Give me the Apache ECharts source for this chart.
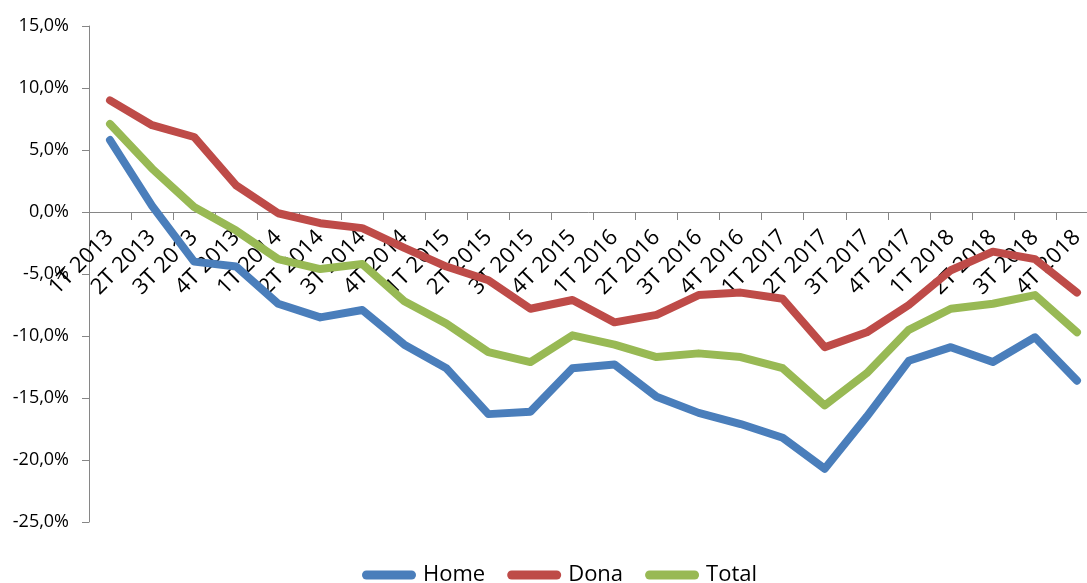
<!DOCTYPE html>
<html>
<head>
<meta charset="utf-8">
<script src="https://cdn.jsdelivr.net/npm/echarts@6/dist/echarts.min.js"></script>
<style>
  html, body { margin: 0; padding: 0; background: #fff; }
  #chart { width: 1087px; height: 583px; }
</style>
</head>
<body>
<div id="chart"></div>
<script>
// quarters
var quarters = ['1T 2013', '2T 2013', '3T 2013', '4T 2013',
  '1T 2014', '2T 2014', '3T 2014', '4T 2014',
  '1T 2015', '2T 2015', '3T 2015', '4T 2015',
  '1T 2016', '2T 2016', '3T 2016', '4T 2016',
  '1T 2017', '2T 2017', '3T 2017', '4T 2017',
  '1T 2018', '2T 2018', '3T 2018', '4T 2018']

// variacio interanual, en %
var home = [5.8, 0.5, -4.0, -4.4, -7.4, -8.5, -7.9, -10.7, -12.6, -16.3, -16.1, -12.6,
  -12.3, -14.9, -16.2, -17.1, -18.2, -20.7, -16.5, -12.0, -10.9, -12.1, -10.1, -13.6]
var dona = [9.0, 7.0, 6.05, 2.15, -0.1, -0.9, -1.3, -2.9, -4.4, -5.5, -7.8, -7.1,
  -8.9, -8.3, -6.7, -6.5, -7.0, -10.9, -9.7, -7.5, -4.7, -3.2, -3.8, -6.5]
var total = [7.1, 3.5, 0.4, -1.5, -3.8, -4.6, -4.2, -7.2, -9.0, -11.3, -12.1, -9.95,
  -10.7, -11.7, -11.4, -11.7, -12.6, -15.6, -13.0, -9.5, -7.8, -7.4, -6.7, -9.7]

var yMin = -25
var yMax = 15

var colors = ['#4a7ebb', '#be4b48', '#98b954']
var font = '"Open Sans", sans-serif'
var axisGrey = '#868686'

// plot area in px; the right edge runs past the canvas like the original crop
var plotTop = 26
var plotBottom = 61
var plotH = 583 - plotTop - plotBottom
// second grid ends on the 0% line so its x axis labels hang from there
var zeroBottom = plotBottom + plotH * (0 - yMin) / (yMax - yMin)

function lineSeries (name, data) {
  return {
    name: name,
    type: 'line',
    data: data,
    symbol: 'none',
    xAxisIndex: 0,
    yAxisIndex: 0,
    lineStyle: { width: 8, cap: 'round', join: 'round' }
  }
}

var chart = echarts.init(document.getElementById('chart'))
chart.setOption({
  animation: false,
  color: colors,
  grid: [
    { left: 89, top: plotTop, bottom: plotBottom, right: -11, containLabel: false, outerBoundsMode: 'none' },
    { left: 89, top: plotTop, bottom: zeroBottom, right: -11, containLabel: false, outerBoundsMode: 'none' }
  ],
  legend: {
    left: 362,
    top: 564,
    padding: 0,
    itemWidth: 58,
    itemHeight: 9,
    itemGap: 22,
    icon: 'path://M5,0H55A5,5,0,0,1,55,10H5A5,5,0,0,1,5,0Z',
    itemStyle: { borderWidth: 0 },
    textStyle: { fontFamily: font, fontSize: 22, color: '#000' }
  },
  xAxis: [
    {
      type: 'category',
      gridIndex: 0,
      data: quarters,
      boundaryGap: true,
      show: false
    },
    {
      type: 'category',
      gridIndex: 1,
      data: quarters,
      boundaryGap: true,
      position: 'bottom',
      axisLine: { onZero: false, lineStyle: { color: axisGrey, width: 1 } },
      axisTick: { show: true, interval: 0, length: 8, lineStyle: { color: axisGrey } },
      axisLabel: {
        interval: 0,
        rotate: 45,
        margin: 22,
        fontFamily: font,
        fontSize: 22,
        color: '#000'
      },
      splitLine: { show: false }
    }
  ],
  yAxis: [
    {
      type: 'value',
      gridIndex: 0,
      min: yMin,
      max: yMax,
      interval: 5,
      axisLine: { show: true, lineStyle: { color: axisGrey, width: 1 } },
      axisTick: { show: true, length: 7, lineStyle: { color: axisGrey } },
      axisLabel: {
        margin: 20,
        fontFamily: font,
        fontSize: 18,
        color: '#000',
        formatter: function (v) { return v.toFixed(1).replace('.', ',') + '%' }
      },
      splitLine: { show: false }
    },
    {
      type: 'value',
      gridIndex: 1,
      min: 0,
      max: yMax,
      show: false
    }
  ],
  series: [
    lineSeries('Home', home),
    lineSeries('Dona', dona),
    lineSeries('Total', total)
  ]
})
</script>
</body>
</html>
